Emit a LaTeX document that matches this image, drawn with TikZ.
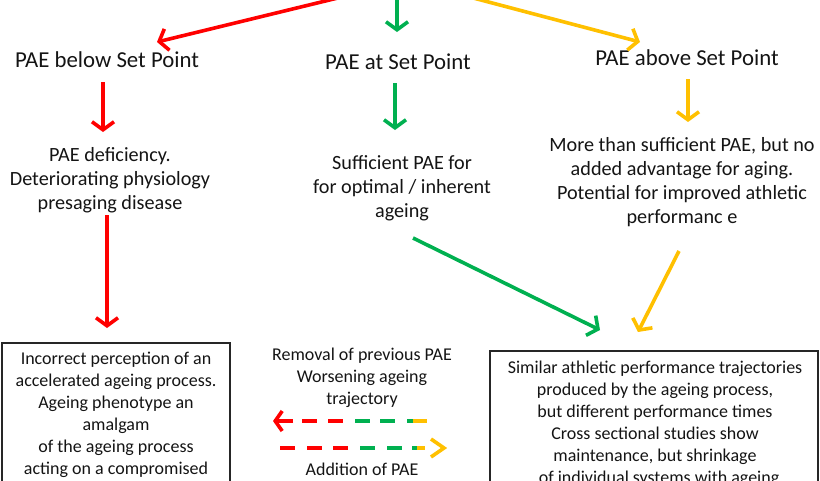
\documentclass[tikz,border=0pt]{standalone}
\usepackage{fontspec}
\setmainfont{Carlito}
\usetikzlibrary{arrows.meta}
\definecolor{pred}{RGB}{255,0,0}
\definecolor{pgreen}{RGB}{0,176,80}
\definecolor{pgold}{RGB}{255,192,0}
\definecolor{ptext}{RGB}{20,20,20}
\begin{document}
\begin{tikzpicture}[x=1pt,y=-1pt,
  arr/.style={line width=3.6pt,-{Straight Barb[length=8pt,width=22pt]}},
  head/.style={text=ptext,inner sep=0pt,font=\fontsize{22.8}{27}\selectfont},
  desc/.style={text=ptext,inner sep=0pt,align=center,font=\fontsize{20.2}{24}\selectfont},
  boxtext/.style={text=ptext,inner sep=0pt,align=center,font=\fontsize{18}{22}\selectfont},
  frame/.style={draw=black!85,line width=1.2pt},
  dsh/.style={line width=3.6pt,line cap=butt}]
\useasboundingbox (0,0) rectangle (820,480);
\clip (0,0) rectangle (820,480);
% top arrows (start above the visible area)
\coordinate (topR) at (350,-5);
\coordinate (topG) at (397,-5);
\coordinate (topY) at (462,-5);
% headings
\node[head] (below) at (107,60) {PAE below Set Point};
\node[head] (at) at (398,62) {PAE at Set Point};
\node[head] (above) at (687,58) {PAE above Set Point};
\coordinate (tipR) at (157,42);
\coordinate (tipG) at (397,32);
\coordinate (tipY) at (640,42);
\draw[arr,pred] (topR) -- (tipR);
\draw[arr,pgreen] (topG) -- (tipG);
\draw[arr,pgold] (topY) -- (tipY);
% descriptions
\node[desc] (defic) at (110,180) {PAE deficiency.\\Deteriorating physiology\\presaging disease};
\node[desc] (suff) at (402,188) {Sufficient PAE for\\for optimal / inherent\\ageing};
\node[desc] (more) at (682,182) {More than sufficient PAE, but no\\added advantage for aging.\\Potential for improved athletic\\performanc e};
\coordinate (r1s) at (103,82);
\coordinate (r1e) at (103,132);
\draw[arr,pred] (r1s) -- (r1e);
\coordinate (g1s) at (395,83);
\coordinate (g1e) at (395,130);
\draw[arr,pgreen] (g1s) -- (g1e);
\coordinate (y1s) at (688,79);
\coordinate (y1e) at (688,122);
\draw[arr,pgold] (y1s) -- (y1e);
% lower arrows
\coordinate (r2s) at (107,215);
\coordinate (r2e) at (107,328);
\draw[arr,pred] (r2s) -- (r2e);
\coordinate (g2s) at (413,238);
\coordinate (g2e) at (600,330);
\draw[arr,pgreen] (g2s) -- (g2e);
\coordinate (y2s) at (679,251);
\coordinate (y2e) at (638,332);
\draw[arr,pgold] (y2s) -- (y2e);
% boxes
\draw[frame] (2,343) rectangle (230,520);
\draw[frame] (490,351) rectangle (818,520);
\node[boxtext,anchor=north] (lefttxt) at (116,351.5) {Incorrect perception of an\\accelerated ageing process.\\Ageing phenotype an\\amalgam\\of the ageing process\\acting on a compromised};
\node[boxtext,anchor=north] (righttxt) at (655,360.5) {Similar athletic performance trajectories\\produced by the ageing process,\\but different performance times\\Cross sectional studies show\\maintenance, but shrinkage\\\ \ of individual systems with ageing};
% middle legend
\node[boxtext] (removal) at (362,378) {Removal of previous PAE\\Worsening ageing\\trajectory};
\node[boxtext] (addition) at (362,469) {Addition of PAE};
% dashed arrow 1 (pointing left)
\draw[line width=3.6pt,pred,-{Straight Barb[length=7pt,width=20pt]}] (293,421) -- (273,421);
\draw[dsh,pred] (302,421) -- (317,421) (328,421) -- (343,421);
\draw[dsh,pgreen] (355,421) -- (370,421) (380,421) -- (395,421) (407,421) -- (413,421);
\draw[dsh,pgold] (413,421) -- (427,421);
% dashed arrow 2 (pointing right)
\draw[dsh,pred] (280,448) -- (295,448) (307,448) -- (322,448) (333,448) -- (348,448);
\draw[dsh,pgreen] (360,448) -- (375,448) (387,448) -- (402,448) (412,448) -- (417,448);
\draw[dsh,pgold] (417,448) -- (425,448);
\draw[line width=3.6pt,pgold,line join=miter] (431,439) -- (444,448) -- (431,457);
\end{tikzpicture}
\end{document}
